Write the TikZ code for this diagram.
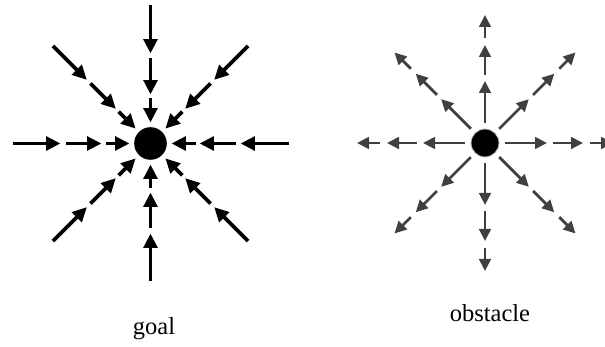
\documentclass[tikz,border=0pt]{standalone}
\usepackage{fontspec}
\setmainfont{Liberation Serif}
\usetikzlibrary{calc,arrows.meta}

\begin{document}
\begin{tikzpicture}[x=0.25cm,y=0.25cm,
    inarrow/.style={line width=2.6pt,-{Triangle[length=3.6mm,width=3.4mm]}},
    outarrow/.style={line width=2pt,black!75,-{Triangle[length=3mm,width=2.9mm]}},
    fieldname/.style={font=\fontsize{17.4}{20}\selectfont,anchor=base}]
    \clip (0,0) rectangle (60.5,34.7);
    \coordinate (G) at (15.05,20.35);
    \coordinate (O) at (48.5,20.4);
    % goal: all arrows point in
    \foreach \ang in {0,45,...,315}
      \foreach \rout/\rin in {13.8/9.0, 8.5/4.9, 4.5/2.1}
        \draw[inarrow] ($(G)+(\ang:\rout)$) -- ($(G)+(\ang:\rin)$);
    \fill (G) circle (1.63);
    % obstacle: all arrows point out
    \foreach \ang in {0,45,...,315}
      \foreach \rin/\rout in {2.0/6.2, 6.8/9.8, 10.5/12.8}
        \draw[outarrow] ($(O)+(\ang:\rin)$) -- ($(O)+(\ang:\rout)$);
    \filldraw[draw=black!25,line width=0.6pt] (O) circle (1.4);
    \node[fieldname] (goallabel) at (15.4,1.2) {goal};
    \node[fieldname] (obstaclelabel) at (49.0,2.5) {obstacle};
\end{tikzpicture}
\end{document}
